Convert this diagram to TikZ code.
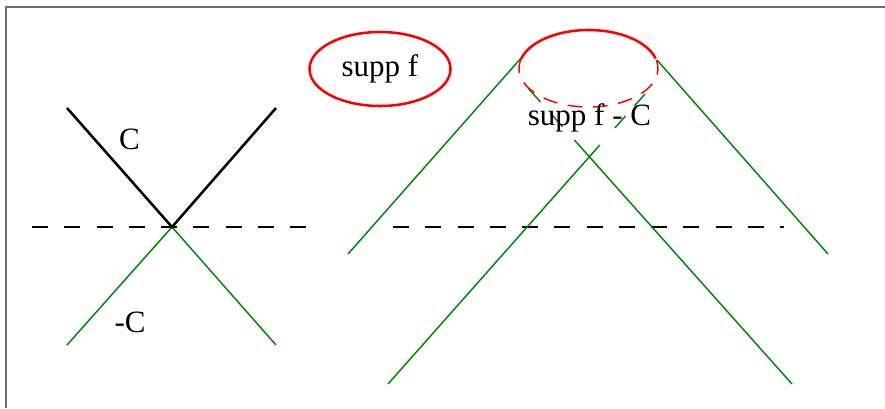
\documentclass[tikz,border=0pt]{standalone}
\usepackage{fontspec}
\setmainfont{Liberation Serif}
\usetikzlibrary{shapes.geometric}
\definecolor{xgreen}{RGB}{0,135,0}
\definecolor{xframe}{RGB}{110,110,110}
\begin{document}
\begin{tikzpicture}[x=0.75pt,y=-0.75pt,
  frameline/.style={draw=xframe, line width=1.5pt},
  conec/.style={draw=black, line width=1.9pt},
  gline/.style={draw=xgreen, line width=1.1pt},
  gdash/.style={gline, dash pattern=on 14pt off 11pt},
  axisline/.style={draw=black, line width=1.1pt, dash pattern=on 12pt off 12.2pt},
  lbl/.style={font=\fontsize{23.25}{28}\selectfont, inner sep=0pt},
  suppell/.style={ellipse, draw=red, line width=1.9pt, inner sep=0pt,
     minimum width=105.75pt, minimum height=55.5pt, font=\fontsize{23.25}{28}\selectfont}]
\useasboundingbox (0,0) rectangle (885,408);
% frame (cropped rectangle)
\coordinate (fbl) at (6,408);
\coordinate (ftl) at (6,7);
\coordinate (ftr) at (885,7);
\draw[frameline] (fbl) -- (ftl) -- (ftr);

% ---- left figure ----
\coordinate (v) at (172,227);
\coordinate (ctl) at (67,108);
\coordinate (ctr) at (276,108);
\coordinate (mbl) at (67,345);
\coordinate (mbr) at (276,345);
\coordinate (ax1) at (32,227);
\coordinate (ax2) at (308,227);
\draw[axisline] (ax1) -- (ax2);
\draw[gline] (mbl) -- (v) -- (mbr);
\draw[conec, line join=miter] (ctl) -- (v) -- (ctr);
\node[lbl] (lC) at (129.5,139) {C};
\node[lbl] (lmC) at (130,322) {-C};

% ---- supp f ----
\node[suppell] (sf) at (380,69) {supp f};

% ---- right figure ----
\coordinate (ec) at (588.5,68.5);
\coordinate (bx1) at (393,227);
\coordinate (bx2) at (784,227);
\draw[axisline] (bx1) -- (bx2);
% outer cone C + supp f
\coordinate (oL1) at (522,57);
\coordinate (oL2) at (348,254);
\coordinate (oR1) at (657,60);
\coordinate (oR2) at (828,254);
\draw[gline] (oL1) -- (oL2);
\draw[gline] (oR1) -- (oR2);
% inner cone supp f - C
\coordinate (iL1) at (528,88);
\coordinate (iL2) at (565.5,130);
\coordinate (iL3) at (574.4,140);
\coordinate (iL4) at (792,384);
\coordinate (iR1) at (645,94);
\coordinate (iR2) at (610.4,133);
\coordinate (iR3) at (599.8,145);
\coordinate (iR4) at (388,384);
\draw[gdash] (iL1) -- (iL2);
\draw[gline] (iL3) -- (iL4);
\draw[gline, dash pattern=on 12pt off 10pt] (iR1) -- (iR2);
\draw[gline] (iR3) -- (iR4);
% ellipse: solid upper part, dashed lower part
\draw[red, line width=1.9pt] (ec) ++(15:52.125pt and 28.875pt)
   arc[start angle=15, end angle=165, x radius=52.125pt, y radius=28.875pt];
\draw[red, line width=1.1pt, dash pattern=on 11pt off 8pt] (ec) ++(165:52.125pt and 28.875pt)
   arc[start angle=165, end angle=375, x radius=52.125pt, y radius=28.875pt];
\node[lbl, anchor=base] (sfc) at (589.5,125) {supp f - C};
\end{tikzpicture}
\end{document}
